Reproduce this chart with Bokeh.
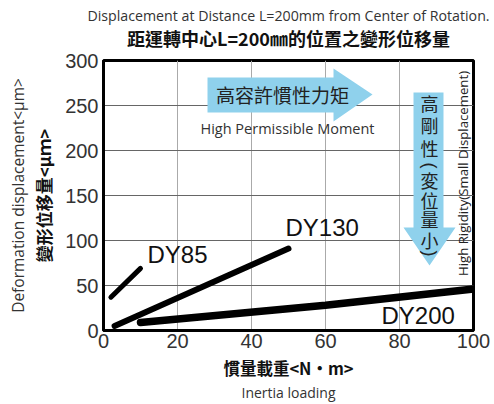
import math
from bokeh.plotting import figure
from bokeh.models import Label, Range1d, FixedTicker, LinearAxis, Title
from bokeh.embed import file_html
from bokeh.resources import INLINE

# ---- data ----
x_ticks = [0, 20, 40, 60, 80, 100]
y_ticks = [0, 50, 100, 150, 200, 250, 300]
dy85_x = [2, 10]
dy85_y = [37, 69]
dy130_x = [3, 50]
dy130_y = [5, 91]
dy200_x = [10, 60, 100]
dy200_y = [9, 28, 46]
series_names = ["DY85", "DY130", "DY200"]

# ---- geometry helpers (picture px -> data), for decorations only ----
X0, XS = 103.0, 3.7
Y0, YS = 330.0, 0.9
def dx(px): return (px - X0) / XS
def dy(py): return (Y0 - py) / YS

LATIN = "Liberation Sans"
CAP = "Open Sans"
CJK = "Noto Sans CJK TC"
BLUE = "#8fd1ec"

p = figure(width=494, height=404, output_backend="svg", toolbar_location=None,
           x_range=Range1d(0, 100), y_range=Range1d(0, 300),
           min_border_left=103, min_border_right=21, min_border_top=60, min_border_bottom=74)
p.background_fill_color = "white"
p.border_fill_color = "white"
p.outline_line_color = "black"
p.outline_line_width = 3

for ax in (p.xaxis[0], p.yaxis[0]):
    ax.axis_line_color = "black"
    ax.axis_line_width = 3
    ax.major_tick_in = 0
    ax.major_tick_out = 0
    ax.minor_tick_line_color = None
    ax.major_label_text_font = LATIN
    ax.major_label_text_font_size = "20px"
    ax.major_label_text_color = "#333333"
p.xaxis.ticker = FixedTicker(ticks=x_ticks)
p.yaxis.ticker = FixedTicker(ticks=y_ticks)
p.xaxis.major_label_standoff = 3
p.yaxis.major_label_standoff = 5
p.xgrid.grid_line_color = "#aaaaaa"
p.ygrid.grid_line_color = "#666666"

# axis titles
p.xaxis.axis_label = "慣量載重<N·m>"
p.xaxis.axis_label_text_font = CJK
p.xaxis.axis_label_text_font_size = "16.5px"
p.xaxis.axis_label_text_font_style = "bold"
p.xaxis.axis_label_text_color = "#111111"
p.xaxis.axis_label_standoff = 5
p.yaxis.axis_label = "變形位移量<μｍ>"
p.yaxis.axis_label_text_font = CJK
p.yaxis.axis_label_text_font_size = "17px"
p.yaxis.axis_label_text_font_style = "bold"
p.yaxis.axis_label_text_color = "#111111"
p.yaxis.axis_label_standoff = 6

def extra_axis(side, text, size):
    a = LinearAxis(ticker=FixedTicker(ticks=[]), axis_label=text,
                   axis_line_color=None, major_tick_line_color=None,
                   minor_tick_line_color=None, major_label_text_font_size="0px",
                   major_tick_out=0, major_label_standoff=0,
                   axis_label_text_font=CAP, axis_label_text_font_size=size,
                   axis_label_text_font_style="normal", axis_label_text_color="#333333",
                   axis_label_standoff=0)
    p.add_layout(a, side)
    return a

extra_axis("below", "Inertia loading", "14px")
extra_axis("left", "Deformation displacement<μm>", "15.5px")

# titles: first one added to "above" sits nearest the frame
p.add_layout(Title(text=" ", text_font=LATIN, text_font_size="6px", standoff=0), "above")
p.add_layout(Title(text="距運轉中心L=200㎜的位置之變形位移量", text_font=CJK, text_font_size="18px",
                   text_font_style="bold", text_color="#111111", align="center",
                   vertical_align="top", standoff=0), "above")
p.add_layout(Title(text="Displacement at Distance L=200mm from Center of Rotation.", text_font=CAP,
                   text_font_size="14.2px", text_font_style="normal", text_color="#333333",
                   align="center", vertical_align="bottom", standoff=0), "above")

# ---- arrows (decoration) ----
h_arrow_x = [dx(207), dx(333), dx(333), dx(372), dx(333), dx(333), dx(207)]
h_arrow_y = [dy(77), dy(77), dy(68), dy(94), dy(121), dy(112), dy(112)]
p.patch(h_arrow_x, h_arrow_y, fill_color=BLUE, line_color=None)
v_arrow_x = [dx(413), dx(443), dx(443), dx(455), dx(429), dx(403), dx(413)]
v_arrow_y = [dy(92), dy(92), dy(227), dy(227), dy(265), dy(227), dy(227)]
p.patch(v_arrow_x, v_arrow_y, fill_color=BLUE, line_color=None)

# ---- series lines ----
p.line(dy85_x, dy85_y, line_color="black", line_width=5, line_cap="round")
p.line(dy130_x, dy130_y, line_color="black", line_width=6, line_cap="round")
p.line(dy200_x, dy200_y, line_color="black", line_width=7.5, line_cap="round")

def lab(px, py, text, font, size, color="#222222", style="normal", angle=0.0,
        align="center", baseline="middle"):
    p.add_layout(Label(x=dx(px), y=dy(py), text=text, text_font=font,
                       text_font_size=size, text_color=color, text_font_style=style,
                       angle=angle, text_align=align, text_baseline=baseline))

# series names
lab(147, 254, series_names[0], LATIN, "24px", "#111111", align="left")
lab(285, 227, series_names[1], LATIN, "24px", "#111111", align="left")
lab(381, 315, series_names[2], LATIN, "24px", "#111111", align="left")

# arrow texts
lab(282, 94, "高容許慣性力矩", CJK, "19px", "#222222")
lab(287, 128, "High Permissible Moment", CAP, "14.5px", "#333333")
v_chars = ["高", "剛", "性", "(", "変", "位", "量", "小", ")"]
v_pos = [102, 124, 147, 165, 179, 199, 218, 239, 253]
for ch, yy in zip(v_chars, v_pos):
    if ch in "()":
        lab(429, yy, ch, LATIN, "18px", "#222222", angle=-math.pi / 2)
    else:
        lab(429, yy, ch, CJK, "18px", "#222222")
lab(462, 173, "High Rigidity(Small Displacement)", CAP, "13.2px", "#222222",
    angle=math.pi / 2)

open("out.html", "w").write(file_html(p, INLINE))
